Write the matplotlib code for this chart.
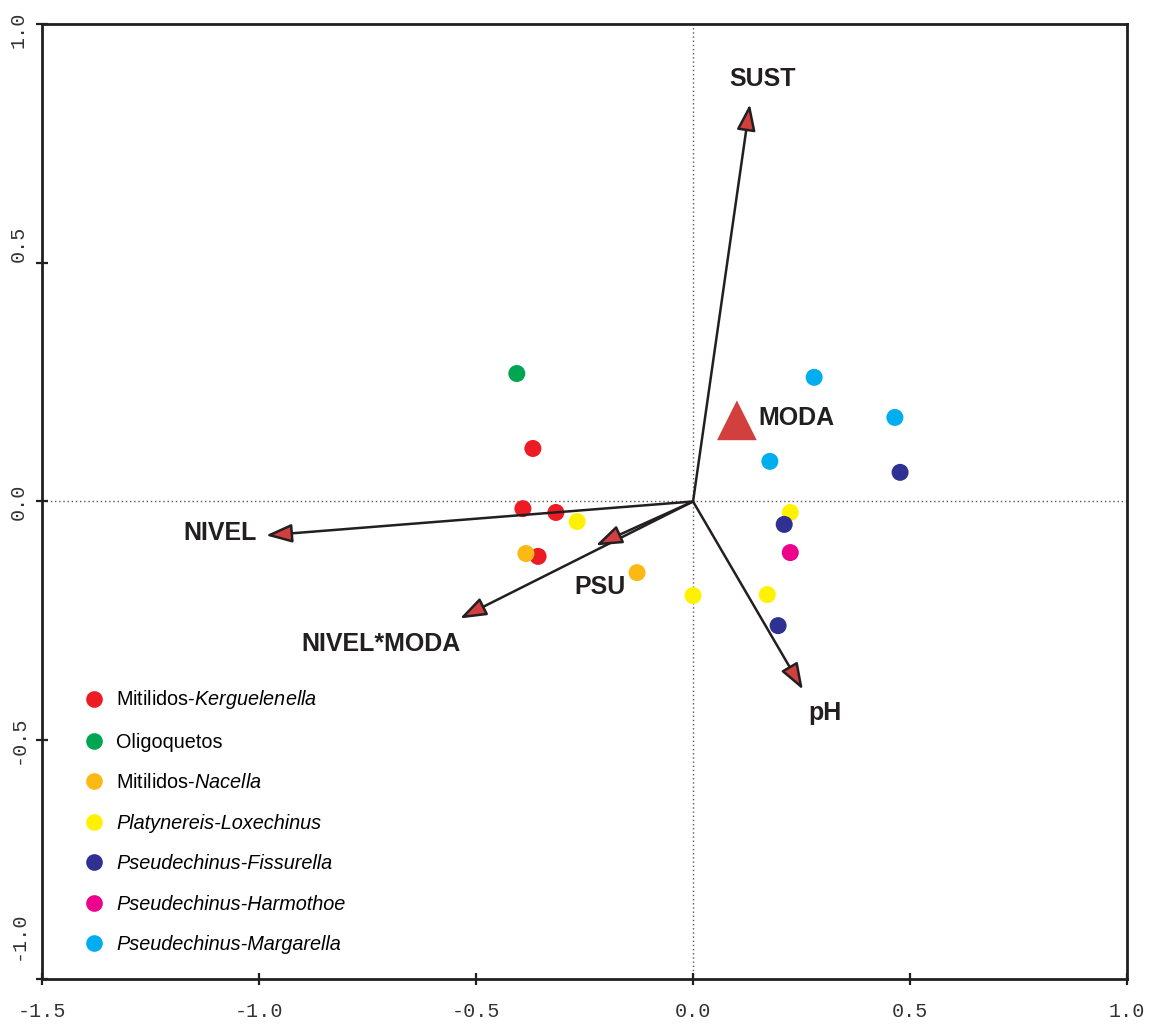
import matplotlib
matplotlib.use("Agg")
import matplotlib.pyplot as plt
import matplotlib.transforms as mtransforms
from matplotlib.lines import Line2D

plt.rcParams["font.family"] = ["Liberation Sans", "DejaVu Sans"]
plt.rcParams["mathtext.fontset"] = "custom"
plt.rcParams["mathtext.it"] = "Liberation Sans:italic"
plt.rcParams["mathtext.rm"] = "Liberation Sans"

# --- groups (sites) ---
groups = [
    "Mitilidos-$\\mathit{Kerguelenella}$",
    "Oligoquetos",
    "Mitilidos-$\\mathit{Nacella}$",
    "Platynereis-Loxechinus",
    "Pseudechinus-Fissurella",
    "Pseudechinus-Harmothoe",
    "Pseudechinus-Margarella",
]
italic_groups = [False, False, False, True, True, True, True]
group_colors = ["#ed1c24", "#00a651", "#fdb913", "#fff200", "#2e3192", "#ec008c", "#00aeef"]

group_x = [
    [-0.369, -0.392, -0.316, -0.357],
    [-0.406],
    [-0.385, -0.129],
    [-0.267, 0.000, 0.171, 0.224],
    [0.477, 0.210, 0.196],
    [0.224],
    [0.279, 0.465, 0.177],
]
group_y = [
    [0.111, -0.015, -0.023, -0.115],
    [0.268],
    [-0.109, -0.149],
    [-0.042, -0.197, -0.195, -0.023],
    [0.061, -0.048, -0.260],
    [-0.107],
    [0.260, 0.176, 0.084],
]

# --- environmental vectors ---
vec_names = ["SUST", "NIVEL", "NIVEL*MODA", "PSU", "pH"]
vec_x = [0.131, -0.984, -0.537, -0.224, 0.253]
vec_y = [0.832, -0.071, -0.245, -0.092, -0.394]
label_x = [0.159, -1.09, -0.72, -0.215, 0.304]
label_y = [0.885, -0.067, -0.298, -0.180, -0.442]

# --- factor centroid ---
factor_name = "MODA"
factor_x = 0.101
factor_y = 0.170

# tick labels
xtick_vals = [-1.5, -1.0, -0.5, 0.0, 0.5, 1.0]
xtick_labels = ["-1.5", "-1.0", "-0.5", "0.0", "0.5", "1.0"]
ytick_vals = [-1.0, -0.5, 0.0, 0.5, 1.0]
ytick_labels = ["-1.0", "-0.5", "0.0", "0.5", "1.0"]
# the original y labels sit a little off their ticks (pixels, up = positive)
ytick_shift = [43, 0, 0, 19, -6]

fig = plt.figure(figsize=(11.56, 10.25), dpi=100)
ax = fig.add_axes([0.0363, 0.0449, 0.9387, 0.9317])

ax.axhline(0, color="#555555", lw=1.0, ls=(0, (1, 2)), zorder=1)
ax.axvline(0, color="#555555", lw=1.0, ls=(0, (1, 2)), zorder=1)

for name, xs, ys, col in zip(groups, group_x, group_y, group_colors):
    ax.scatter(xs, ys, s=150, color=col, edgecolors="none", zorder=3)

ink = "#231f20"
head = "#d13f3f"
for name, vx, vy, lx, ly in zip(vec_names, vec_x, vec_y, label_x, label_y):
    ax.annotate(
        "",
        xy=(vx, vy),
        xytext=(0, 0),
        arrowprops=dict(
            arrowstyle="-|>,head_length=1.0,head_width=0.36",
            mutation_scale=16,
            fc=head,
            ec=ink,
            lw=1.8,
            shrinkA=0,
            shrinkB=0,
        ),
        zorder=4,
    )
    ax.text(lx, ly, name, fontsize=18, fontweight="bold", color=ink,
            ha="center", va="center", zorder=5)

ax.scatter([factor_x], [factor_y], marker="^", s=820, color=head,
           edgecolors="none", zorder=4)
ax.text(factor_x + 0.05, factor_y + 0.004, factor_name, fontsize=18, fontweight="bold",
        color=ink, ha="left", va="center", zorder=5)

ax.set_xlim(-1.5, 1.0)
ax.set_ylim(-1.0, 1.0)
ax.set_xticks(xtick_vals)
ax.set_yticks(ytick_vals)
ax.set_xticklabels(xtick_labels, family="Liberation Mono", fontsize=14.5, color="#333333")
ax.set_yticklabels(ytick_labels, family="Liberation Mono", fontsize=14.5, color="#333333",
                   rotation=90, va="center")
ax.tick_params(direction="inout", length=9, width=1.6, color=ink, pad=12)
ax.tick_params(axis="y", pad=6)
for lab, dy in zip(ax.get_yticklabels(), ytick_shift):
    lab.set_transform(lab.get_transform() +
                      mtransforms.ScaledTranslation(0, dy / 100, fig.dpi_scale_trans))
for sp in ax.spines.values():
    sp.set_linewidth(2.0)
    sp.set_color(ink)

handles = [
    Line2D([], [], marker="o", ls="none", markersize=12, color=c, markeredgewidth=0)
    for c in group_colors
]
leg = ax.legend(handles, groups, loc="upper left", bbox_to_anchor=(0.03, 0.3125),
                frameon=False, fontsize=14.3, labelspacing=1.08, handletextpad=0.5,
                handlelength=1.2, borderaxespad=0)
for t, it in zip(leg.get_texts(), italic_groups):
    if it:
        t.set_fontstyle("italic")

fig.savefig("out.png", dpi=100)
